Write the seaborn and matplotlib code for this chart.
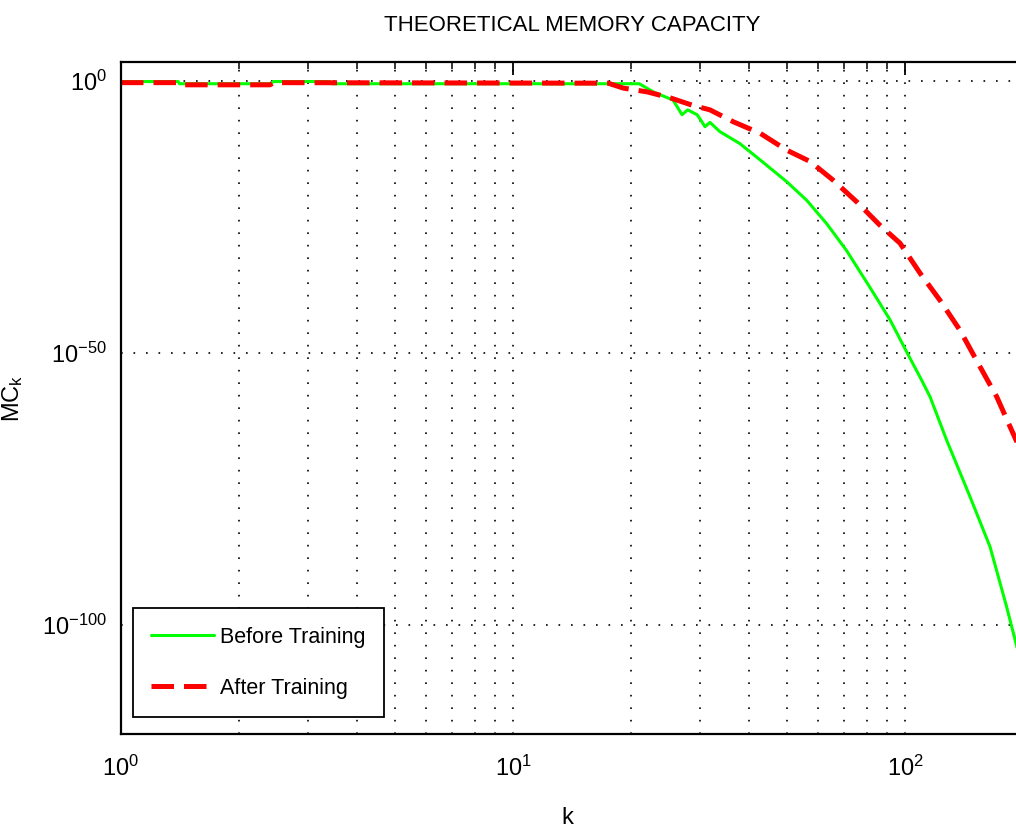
import numpy as np
import pandas as pd
import matplotlib
matplotlib.use("Agg")
import matplotlib.pyplot as plt
import matplotlib.ticker as mticker
import seaborn as sns

# values (k, log10 of MC_k)
k_before = [1.0, 1.4, 1.41, 2.4, 2.45, 3.4, 3.45, 21.0, 22.8, 25.6, 27.0, 27.9, 29.5,
            30.9, 31.8, 33.7, 37.9, 42.7, 49.9, 56.1, 63.1, 71.0, 81.5, 91.6, 101.0,
            110.3, 115.8, 127.7, 146.5, 164.8, 181.6, 190.9, 200.0]
logmc_before = [-0.1, -0.1, -0.5, -0.5, -0.1, -0.1, -0.5, -0.5, -2.0, -3.5, -6.2, -5.3, -6.2,
                -8.4, -7.6, -9.3, -11.5, -14.5, -18.5, -21.9, -26.2, -31.2, -38.0, -43.9, -49.8,
                -55.0, -58.0, -66.0, -76.4, -85.6, -96.6, -102.7, -108.5]

k_after = [1.0, 1.4, 1.42, 2.4, 2.45, 17.5, 19.1, 22.0, 25.2, 28.8, 31.8, 36.5, 42.7,
           49.9, 57.3, 65.5, 75.3, 86.3, 97.1, 109.2, 122.8, 138.1, 153.7, 171.3, 192.0, 200.0]
logmc_after = [-0.3, -0.3, -0.7, -0.7, -0.3, -0.4, -1.3, -2.0, -3.1, -4.5, -5.3, -7.5, -9.6,
               -12.7, -14.8, -18.2, -22.2, -26.5, -29.8, -35.3, -40.3, -45.8, -51.9, -58.0, -66.0, -68.5]

labels = ["Before Training", "After Training"]
y_ticks = [1e0, 1e-50, 1e-100]

df_before = pd.DataFrame({"k": k_before, "mc": 10.0 ** np.array(logmc_before)})
df_after = pd.DataFrame({"k": k_after, "mc": 10.0 ** np.array(logmc_after)})

sns.set_style("white")
plt.rcParams["font.family"] = ["Liberation Sans", "DejaVu Sans"]
plt.rcParams["mathtext.default"] = "regular"
plt.rcParams["axes.unicode_minus"] = False
for key in ["text.color", "axes.labelcolor", "xtick.color", "ytick.color"]:
    plt.rcParams[key] = "black"

fig = plt.figure(figsize=(10.16, 8.33), dpi=100)
ax = fig.add_axes([0.1191, 0.1189, 0.8878, 0.8067])

sns.lineplot(data=df_before, x="k", y="mc", ax=ax, color="#00ff00", linewidth=2.2,
             label=labels[0], sort=False, estimator=None)
sns.lineplot(data=df_after, x="k", y="mc", ax=ax, color="#ff0000", linewidth=3.6,
             label=labels[1], sort=False, estimator=None)
ax.lines[1].set_dashes((4.5, 2.0))

ax.set_xscale("log")
ax.set_yscale("log")
ax.set_xlim(1, 200)
ax.set_ylim(1e-120, 10 ** 3.5)

ax.yaxis.set_major_locator(mticker.FixedLocator(y_ticks))
ax.yaxis.set_major_formatter(mticker.LogFormatterSciNotation())
ax.yaxis.set_minor_locator(mticker.NullLocator())
ax.xaxis.set_major_locator(mticker.LogLocator(base=10))
ax.xaxis.set_minor_locator(mticker.LogLocator(base=10, subs=np.arange(2, 10)))
ax.xaxis.set_minor_formatter(mticker.NullFormatter())

grid_kw = dict(color="black", linewidth=1.2, linestyle=(0, (1, 6.5)))
ax.grid(True, which="major", axis="both", **grid_kw)
ax.grid(True, which="minor", axis="x", **grid_kw)

ax.tick_params(axis="both", which="major", direction="in", length=9, width=1.3,
               labelsize=17, top=True, right=False, color="black")
ax.tick_params(axis="x", which="minor", direction="in", length=5, width=1.1, top=True)
ax.tick_params(axis="x", which="major", pad=16)
ax.tick_params(axis="y", which="major", pad=10)

for side in ["left", "bottom", "top", "right"]:
    ax.spines[side].set_color("black")
    ax.spines[side].set_linewidth(1.6)

ax.set_title("THEORETICAL MEMORY CAPACITY", fontsize=16, pad=22)
ax.set_xlabel("k", fontsize=17)
ax.set_ylabel(r"MC$_{k}$", fontsize=17)
ax.xaxis.set_label_coords(0.495, -0.108)
ax.yaxis.set_label_coords(-0.106, 0.5)

leg = ax.legend(loc="lower left", bbox_to_anchor=(0.0133, 0.0253), borderaxespad=0,
                fontsize=15.5, handlelength=2.9, handletextpad=0.3, labelspacing=1.4,
                borderpad=0.85, fancybox=False, framealpha=1)
leg.get_frame().set_edgecolor("black")
leg.get_frame().set_linewidth(1.3)

fig.savefig("out.png", dpi=100)
